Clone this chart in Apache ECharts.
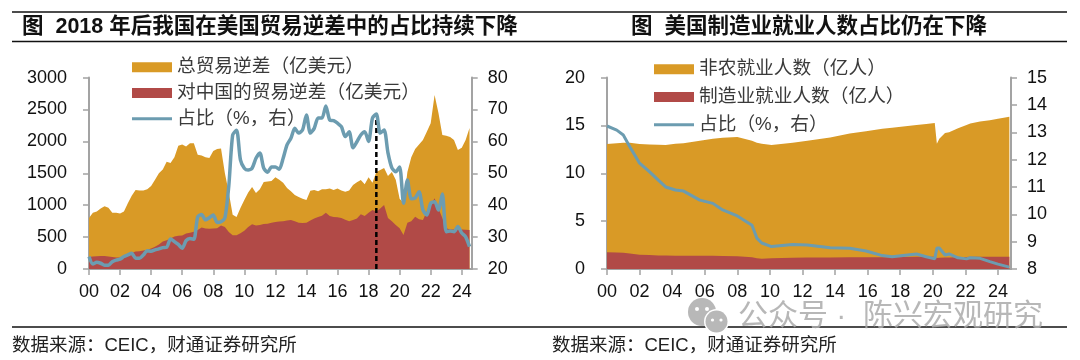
<!DOCTYPE html>
<html><head><meta charset="utf-8">
<style>html,body{margin:0;padding:0;background:#fff}#c{width:1080px;height:360px}</style>
<script src="https://cdn.jsdelivr.net/npm/echarts@6/dist/echarts.min.js"></script>
</head><body><div id="c"></div>
<script>
const xTicks=[0,2,4,6,8,10,12,14,16,18,20,22,24];
// Left panel: quarterly from 2000, years since 2000 = index / 4
const totalDeficit=[800,880,900,950, 985,960,880,880, 870,900,1030,1150, 1240,1230,1230,1250,
 1300,1400,1500,1560, 1680,1660,1750,1930, 1950,1920,1970,1970, 1790,1780,1750,1740,
 1850,1880,1890,1500, 1200,850,815,955, 1080,1200,1285,1190, 1250,1365,1370,1380,
 1440,1400,1350,1270, 1220,1160,1130,1100, 1080,1227,1240,1220, 1250,1250,1260,1240,
 1260,1230,1212,1230, 1316,1360,1395,1330, 1440,1350,1520,1550, 1583,1458,1520,1400,
 1100,1035,1520,1750, 1880,1950,2020,2150, 2285,2727,2445,2100, 2090,2070,2020,1865, 1900,2020,2210];
const chinaDeficit=[190,195,200,205, 205,195,190,180, 180,195,230,250, 275,280,290,300,
 320,350,385,430, 450,480,510,520, 525,555,570,585, 610,650,635,630,
 635,640,680,660, 580,530,530,560, 600,660,700,680, 690,705,710,725,
 735,745,750,760, 768,750,725,720, 725,760,790,815, 835,880,830,815,
 810,800,770,750, 768,790,860,830, 880,925,900,950, 1003,800,750,690,
 640,533,725,750, 820,780,768,900, 1000,1110,950,800, 640,620,620,620, 620,615,610];
const chinaShare=[23.9,21.6,22.1,21.8, 21.2,21.2,22.3,22.8, 23.1,23.9,24.4,24.9, 23.4,23.4,24.4,25.7,
 25.6,26,26.3,26.7, 26.8,29.4,28.6,27.7, 26.5,28.9,29.6,29.3, 36.4,37.1,35.4,36.1,
 36.9,34.6,34.8,36, 46,62,63.5,54.2, 51.6,51,51.6,54.7, 56.4,51.6,50.3,52,
 52,51.3,54.7,58.9, 61,64.1,62.6,63.6, 68.3,62.6,64.1,67.3, 67.3,71.1,66.7,66.5,
 65.7,64.6,61.5,63, 58,59.9,62,63, 60,67.3,68.6,62.6, 63.6,56.4,51.7,50.5,
 52,40.6,47.9,42, 42.3,44.2,38.5,36.9, 40.6,41.1,38.5,43.5, 31.7,31.9,31.7,33.3, 31.3,30.1,27];
const markerYear=[18.5,18.5];
const markerShare=[20,68.6];
// Right panel: irregularly spaced readings, years since 2000
const empYears=[0,0.6,1,1.4,2,2.6,3.15,3.6,4.2,4.7,5.7,6.5,7.1,8,8.9,9.2,9.5,10.1,11.4,12.3,13.7,14.9,15.9,16.9,17.5,19,19.6,20.12,20.25,20.4,20.75,21,21.55,22.07,22.3,22.9,23.5,24,24.7];
const nonfarm=[13.06,13.15,13.2,13.2,13.05,13.02,12.98,12.97,13.08,13.15,13.4,13.6,13.72,13.8,13.4,13.2,13.08,12.97,13.2,13.4,13.75,14.15,14.4,14.65,14.75,15.05,15.15,15.25,13.1,13.6,14.2,14.3,14.7,15.05,15.2,15.4,15.55,15.7,15.9];
const manufacturing=[1.74,1.72,1.7,1.62,1.5,1.45,1.42,1.4,1.39,1.39,1.38,1.38,1.37,1.34,1.22,1.12,1.08,1.13,1.17,1.2,1.2,1.22,1.22,1.23,1.24,1.27,1.27,1.27,1.14,1.17,1.2,1.2,1.23,1.26,1.27,1.28,1.28,1.28,1.27];
const mfgShare=[13.23,13.08,12.9,12.47,11.87,11.56,11.25,11.0,10.89,10.85,10.52,10.4,10.16,9.94,9.6,9.13,8.95,8.82,8.9,8.88,8.78,8.76,8.66,8.49,8.45,8.55,8.45,8.37,8.77,8.77,8.51,8.55,8.41,8.37,8.41,8.39,8.27,8.18,8.07];
const leftNames=['总贸易逆差\uFF08亿美元\uFF09','对中国的贸易逆差\uFF08亿美元\uFF09','占比\uFF08%\uFF0C右\uFF09'];
const rightNames=['非农就业人数\uFF08亿人\uFF09','制造业就业人数\uFF08亿人\uFF09','占比\uFF08%\uFF0C右\uFF09 '];
const titleLeft='图  2018 年后我国在美国贸易逆差中的占比持续下降';
const titleRight='图  美国制造业就业人数占比仍在下降';
const sourceText='数据来源\uFF1ACEIC\uFF0C财通证券研究所';
const watermark='公众号 \u00B7  陈兴宏观研究';

const FONT='"Liberation Sans","Noto Sans CJK SC",sans-serif';
const CJK='"Liberation Sans","Noto Sans CJK SC",sans-serif';
const GOLD='#d99a26',RED='#b14a47',BLUE='#6c9cb0',GREY='#a3a3a3';
const LINE_ICON='path://M0,0 L0,0 M0,3.5 L40,3.5 L40,6.5 L0,6.5 Z M40,10 L40,10';
const byQuarter=a=>a.map((v,i)=>[i/4,v]);
const zip=(xs,ys)=>xs.map((x,i)=>[x,ys[i]]);
const xAxis=(idx,max)=>({type:'value',gridIndex:idx,min:0,max,interval:2,
  axisLine:{show:true,onZero:false,lineStyle:{color:GREY,width:2}},
  axisTick:{show:true,length:6,customValues:xTicks,lineStyle:{color:GREY,width:1.5}},
  axisLabel:{customValues:xTicks,margin:14,color:'#111',fontSize:18,fontFamily:FONT,formatter:v=>String(v).padStart(2,'0')},
  splitLine:{show:false}});
const yAxis=(idx,pos,min,max,interval,margin)=>({type:'value',gridIndex:idx,position:pos,min,max,interval,
  axisLine:{show:true,lineStyle:{color:GREY,width:2}},
  axisTick:{show:true,length:6,lineStyle:{color:GREY,width:1.5}},
  axisLabel:{margin,color:'#111',fontSize:18,fontFamily:FONT,formatter:v=>String(v)},
  splitLine:{show:false}});
const area=(name,data,color,x,y,z)=>({name,type:'line',data,xAxisIndex:x,yAxisIndex:y,symbol:'none',z,
  lineStyle:{width:0,color},itemStyle:{color},areaStyle:{color,opacity:1},animation:false});
const line=(name,data,x,y,smooth,width)=>({name,type:'line',data,xAxisIndex:x,yAxisIndex:y,symbol:'none',z:6,smooth,
  lineStyle:{width,color:BLUE},itemStyle:{color:BLUE},animation:false});
const legend=(names,left,top,gap)=>({data:[{name:names[0],icon:'rect'},{name:names[1],icon:'rect'},{name:names[2],icon:LINE_ICON}],orient:'vertical',left,top,itemWidth:40,itemHeight:10,itemGap:gap,padding:0,
  selectedMode:false,textStyle:{fontFamily:CJK,fontSize:18.7,color:'#3a3a3a',lineHeight:18}});
const rule=(x1,x2,y,w)=>({type:'line',shape:{x1,y1:y,x2,y2:y},style:{stroke:'#111',lineWidth:w},silent:true});
const text=(t,x,y,size,weight,fill,align,z)=>({type:'text',x,y,z:z||1,silent:true,style:{text:t,fontSize:size,fontWeight:weight,fontFamily:FONT,fill,align:align||'left',verticalAlign:'middle'}});
const dot=(cx,cy,r,fill,z)=>({type:'circle',z,silent:true,shape:{cx,cy,r},style:{fill}});

const chart=echarts.init(document.getElementById('c'),null,{renderer:'canvas'});
chart.setOption({animation:false,backgroundColor:'#fff',
 grid:[{left:89,right:608.3,top:77.6,bottom:91},{left:607,right:69,top:77.6,bottom:91}],
 legend:[legend(leftNames,132,58,7),legend(rightNames,654,60,9)],
 xAxis:[xAxis(0,24.64),xAxis(1,24.8)],
 yAxis:[yAxis(0,'left',0,3000,500,22),yAxis(0,'right',20,80,10,16),yAxis(1,'left',0,20,5,22),yAxis(1,'right',8,15,1,16)],
 series:[
  area(leftNames[0],byQuarter(totalDeficit),GOLD,0,0,2),
  area(leftNames[1],byQuarter(chinaDeficit),RED,0,0,3),
  line(leftNames[2],byQuarter(chinaShare),0,1,0.25,3.5),
  {type:'line',data:zip(markerYear,markerShare),xAxisIndex:0,yAxisIndex:1,symbol:'none',z:5,lineStyle:{color:'#000',width:2.5,type:[5,3]},animation:false},
  area(rightNames[0],zip(empYears,nonfarm),GOLD,1,2,2),
  area(rightNames[1],zip(empYears,manufacturing),RED,1,2,3),
  line(rightNames[2],zip(empYears,mfgShare),1,3,false,3)
 ],
 graphic:[
  rule(12,1067,12,1.5),rule(12,1067,41.5,1.5),rule(12,1067,327,1.5),
  text(titleLeft,22,27,21.5,'bold','#111'),
  text(titleRight,631,27,21.5,'bold','#111'),
  text(sourceText,12,346,18.5,'normal','#222'),
  text(sourceText,552,346,18.5,'normal','#222'),
  dot(702,312,14,'#b8b8b8',20),
  dot(716.5,321.5,12.5,'#fff',21),
  dot(716.5,321.5,11,'#b8b8b8',22),
  dot(697,309,2,'#fff',23),dot(707,309,2,'#fff',23),dot(712.5,320,1.6,'#fff',23),dot(721,320,1.6,'#fff',23),
  text(watermark,738,317,30,'normal','rgba(170,170,170,0.85)','left',24)
 ]
});
</script></body></html>
